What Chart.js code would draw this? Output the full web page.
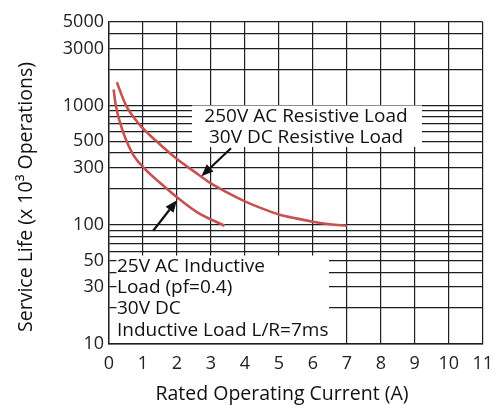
<!DOCTYPE html>
<html>
<head>
<meta charset="utf-8">
<script src="https://cdn.jsdelivr.net/npm/chart.js@4.4.1/dist/chart.umd.min.js"></script>
<style>
  html, body { margin: 0; padding: 0; background: #fff; }
  canvas { display: block; }
</style>
</head>
<body>
<canvas id="chartServiceLife" width="502" height="406"></canvas>
<script>
(function() {
  'use strict';

  // Resistive load curve (250V AC / 30V DC)
  const resistiveX = [0.23, 0.5, 0.9, 1.4, 2, 2.5, 3, 3.5, 4, 4.5, 5, 5.5, 6, 6.5, 7];
  const resistiveY = [1560, 1000, 690, 500, 355, 280, 222, 185, 157, 137, 122, 113, 106, 101, 98];

  // Inductive load curve (25V AC pf=0.4 / 30V DC L/R=7ms)
  const inductiveX = [0.136, 0.2, 0.35, 0.68, 1.1, 1.5, 2, 2.6, 3.4];
  const inductiveY = [1360, 1000, 680, 400, 285, 225, 170, 127, 98];

  // y axis: grid at every log step, labels only on some
  const yGridValues = [10, 20, 30, 40, 50, 60, 70, 80, 90,
    100, 200, 300, 400, 500, 600, 700, 800, 900,
    1000, 2000, 3000, 4000, 5000];
  const yTickLabels = [10, 30, 50, 100, 300, 500, 1000, 3000, 5000];

  const xTitle = 'Rated Operating Current (A)';
  const yTitle = 'Service Life (x 10\u00B3 Operations)';
  const resistiveLabel = ['250V AC Resistive Load', '30V DC Resistive Load'];
  const inductiveLabel = ['25V AC Inductive', 'Load (pf=0.4)', '30V DC', 'Inductive Load L/R=7ms'];

  // arrows pointing at the curves: [tailX, tailY, tipX, tipY] in data units
  const resistiveArrow = [3.59, 437, 2.72, 255];
  const inductiveArrow = [1.30, 89, 2.0, 160];

  const FONT = '"Open Sans", sans-serif';
  const GRID = '#1e1e1e';
  const CURVE = '#c8504f';

  function toPoints(xs, ys) {
    return xs.map((x, i) => ({ x: x, y: ys[i] }));
  }

  function drawArrow(ctx, x1, y1, x2, y2) {
    const ang = Math.atan2(y2 - y1, x2 - x1);
    const len = 12, half = 5;
    const bx = x2 - Math.cos(ang) * len;
    const by = y2 - Math.sin(ang) * len;
    ctx.strokeStyle = '#111';
    ctx.fillStyle = '#111';
    ctx.lineWidth = 2.2;
    ctx.beginPath();
    ctx.moveTo(x1, y1);
    ctx.lineTo(bx, by);
    ctx.stroke();
    ctx.beginPath();
    ctx.moveTo(x2, y2);
    ctx.lineTo(bx - Math.sin(ang) * half, by + Math.cos(ang) * half);
    ctx.lineTo(bx + Math.sin(ang) * half, by - Math.cos(ang) * half);
    ctx.closePath();
    ctx.fill();
  }

  function arrowAt(chart, a) {
    const xs = chart.scales.x, ys = chart.scales.y;
    drawArrow(chart.ctx,
      xs.getPixelForValue(a[0]), ys.getPixelForValue(a[1]),
      xs.getPixelForValue(a[2]), ys.getPixelForValue(a[3]));
  }

  const annotations = {
    id: 'annotations',
    beforeDraw(chart) {
      const ctx = chart.ctx;
      ctx.save();
      ctx.fillStyle = '#fff';
      ctx.fillRect(0, 0, chart.width, chart.height);
      ctx.restore();
    },
    beforeDatasetsDraw(chart) {
      const ctx = chart.ctx;
      ctx.save();
      ctx.fillStyle = '#fff';
      ctx.fillRect(192, 105.5, 230, 41.5);
      ctx.fillRect(116.5, 255.5, 212.5, 87.5);
      ctx.restore();
    },
    afterDatasetsDraw(chart) {
      const ctx = chart.ctx;
      ctx.save();
      ctx.fillStyle = '#111';
      ctx.font = '19px ' + FONT;
      ctx.textBaseline = 'alphabetic';
      ctx.textAlign = 'center';
      ctx.fillText(resistiveLabel[0], 306, 121.5);
      ctx.fillText(resistiveLabel[1], 306, 143);
      ctx.textAlign = 'left';
      inductiveLabel.forEach((t, i) => ctx.fillText(t, 117, 271.5 + i * 21.4));

      arrowAt(chart, resistiveArrow);
      arrowAt(chart, inductiveArrow);
      ctx.restore();
    },
    afterDraw(chart) {
      const ctx = chart.ctx;
      ctx.save();
      ctx.fillStyle = '#111';
      ctx.font = '19.5px ' + FONT;
      ctx.textAlign = 'center';
      ctx.textBaseline = 'alphabetic';
      ctx.fillText(xTitle, 282, 399.5);
      ctx.translate(31.5, 197);
      ctx.rotate(-Math.PI / 2);
      ctx.fillText(yTitle, 0, 0);
      ctx.restore();
    }
  };

  const ctx = document.getElementById('chartServiceLife').getContext('2d');
  new Chart(ctx, {
    type: 'line',
    data: {
      datasets: [{
        label: 'Resistive Load',
        data: toPoints(resistiveX, resistiveY),
        borderColor: CURVE,
        borderWidth: 2.6,
        pointRadius: 0,
        cubicInterpolationMode: 'monotone',
        fill: false
      }, {
        label: 'Inductive Load',
        data: toPoints(inductiveX, inductiveY),
        borderColor: CURVE,
        borderWidth: 2.6,
        pointRadius: 0,
        cubicInterpolationMode: 'monotone',
        fill: false
      }]
    },
    options: {
      responsive: false,
      animation: false,
      devicePixelRatio: 1,
      layout: { padding: { top: 22, right: 13, left: 0, bottom: 0 } },
      plugins: {
        legend: { display: false },
        tooltip: { enabled: false }
      },
      scales: {
        x: {
          type: 'linear',
          min: 0,
          max: 11,
          ticks: {
            stepSize: 1,
            color: '#222',
            padding: 9,
            font: { family: FONT, size: 18 }
          },
          grid: { color: GRID, lineWidth: 1.2, drawTicks: false },
          border: { color: GRID, width: 1.4 },
          afterFit: function(scale) { scale.height = 62; }
        },
        y: {
          type: 'logarithmic',
          min: 10,
          max: 5000,
          afterBuildTicks: function(scale) {
            scale.ticks = yGridValues.map(v => ({ value: v }));
          },
          ticks: {
            autoSkip: false,
            color: '#222',
            padding: 5,
            font: { family: FONT, size: 18 },
            callback: function(value) {
              return yTickLabels.includes(value) ? String(value) : '';
            }
          },
          grid: { color: GRID, lineWidth: 1.2, drawTicks: false },
          border: { color: GRID, width: 1.4 },
          afterFit: function(scale) { scale.width = 109; }
        }
      }
    },
    plugins: [annotations]
  });
})();
</script>
</body>
</html>
